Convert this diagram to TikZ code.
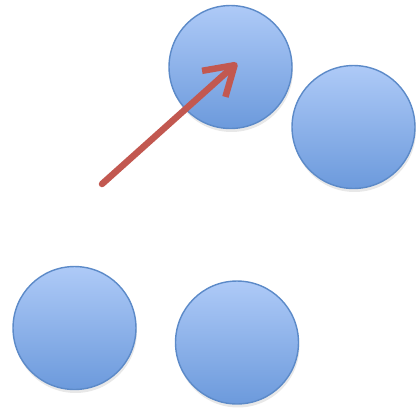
\documentclass[tikz,border=0pt]{standalone}
\usepackage{xcolor}
\usepackage{tikz}
\usetikzlibrary{arrows.meta, shadows}
\definecolor{ballblue}{RGB}{92,138,200}
\definecolor{balltop}{RGB}{174,202,247}
\definecolor{ballbottom}{RGB}{108,154,220}
\definecolor{arrowred}{RGB}{194,88,80}
\tikzset{
    ball/.style={circle, minimum size=2.46cm, inner sep=0pt, draw=ballblue, line width=0.8pt,
                 top color=balltop, bottom color=ballbottom,
                 drop shadow={opacity=0.18, shadow xshift=0.02cm, shadow yshift=-0.07cm}},
    push/.style={line width=0.13cm, arrowred, line cap=round,
                 -{Straight Barb[length=0.56cm, width=0.7cm, line join=round]}}
}

\begin{document}
\begin{tikzpicture}[x=0.02cm, y=-0.02cm]
    \useasboundingbox (0,0) rectangle (416,407);

    % Balls
    \node[ball] (top) at (230.5,67) {};
    \node[ball] (right) at (353.5,127) {};
    \node[ball] (left) at (74.5,328) {};
    \node[ball] (bottom) at (237,342.5) {};

    % Push
    \coordinate (tail) at (102,184);
    \coordinate (tip) at (237,63);
    \draw[push] (tail) -- (tip);
\end{tikzpicture}
\end{document}
